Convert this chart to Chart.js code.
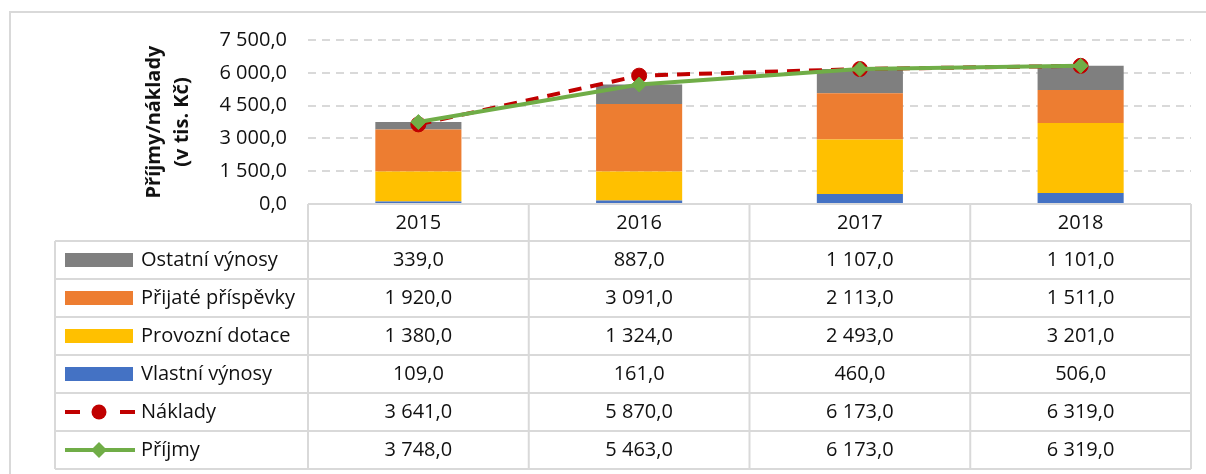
<!DOCTYPE html>
<html lang="cs">
<head>
<meta charset="utf-8">
<title>Příjmy a náklady</title>
<script src="https://cdn.jsdelivr.net/npm/chart.js@4.4.1/dist/chart.umd.min.js"></script>
<style>
  html, body { margin: 0; padding: 0; background: #fff; }
  #wrap { width: 1206px; height: 474px; position: relative; }
</style>
</head>
<body>
<div id="wrap"><canvas id="graf" width="1206" height="474"></canvas></div>
<script>
// data z tabulky pod grafem
const roky = ['2015', '2016', '2017', '2018'];
const vlastniVynosy = [109, 161, 460, 506];
const provozniDotace = [1380, 1324, 2493, 3201];
const prijatePrispevky = [1920, 3091, 2113, 1511];
const ostatniVynosy = [339, 887, 1107, 1101];
const naklady = [3641, 5870, 6173, 6319];
const prijmy = [3748, 5463, 6173, 6319];
const osaY = [0, 1500, 3000, 4500, 6000, 7500];

const PISMO = '"Open Sans", Lato, sans-serif';
const SEDA = '#D9D9D9';

// 7500 -> "7 500,0"
function formatCislo(v) {
    const [cela, des] = Number(v).toFixed(1).split('.');
    return cela.replace(/\B(?=(\d{3})+(?!\d))/g, ' ') + ',' + des;
}

// radky tabulky (poradi jako v Excelu)
const radky = [
    { nazev: 'Ostatní výnosy', data: ostatniVynosy, barva: '#7F7F7F', typ: 'bar' },
    { nazev: 'Přijaté příspěvky', data: prijatePrispevky, barva: '#ED7D31', typ: 'bar' },
    { nazev: 'Provozní dotace', data: provozniDotace, barva: '#FFC000', typ: 'bar' },
    { nazev: 'Vlastní výnosy', data: vlastniVynosy, barva: '#4472C4', typ: 'bar' },
    { nazev: 'Náklady', data: naklady, barva: '#C00000', typ: 'naklady' },
    { nazev: 'Příjmy', data: prijmy, barva: '#70AD47', typ: 'prijmy' }
];

// tabulka s daty + ramecek, kresleno pod osou x
const tabulkaPlugin = {
    id: 'tabulka',
    afterDraw(chart) {
        const ctx = chart.ctx;
        const x = chart.scales.x;
        const area = chart.chartArea;
        const sirka = (area.right - area.left) / roky.length;
        const levy = 55;
        const hlavickaY = area.bottom;
        const vyskaHlavicky = 37;
        const vyskaRadku = 38;
        const prvniRadek = hlavickaY + vyskaHlavicky;
        const konec = prvniRadek + radky.length * vyskaRadku;

        ctx.save();

        // vnejsi ramecek grafu
        ctx.strokeStyle = SEDA;
        ctx.lineWidth = 2;
        ctx.beginPath();
        ctx.moveTo(10, 480);
        ctx.lineTo(10, 12);
        ctx.lineTo(1210, 12);
        ctx.stroke();

        // mrizka tabulky
        ctx.lineWidth = 2;
        ctx.beginPath();
        ctx.moveTo(area.left, hlavickaY);
        ctx.lineTo(area.right, hlavickaY);
        for (let i = 0; i <= radky.length; i++) {
            const y = prvniRadek + i * vyskaRadku;
            ctx.moveTo(levy, y);
            ctx.lineTo(area.right, y);
        }
        ctx.moveTo(levy, prvniRadek);
        ctx.lineTo(levy, konec);
        for (let i = 0; i <= roky.length; i++) {
            const sx = area.left + i * sirka;
            ctx.moveTo(sx, hlavickaY);
            ctx.lineTo(sx, konec);
        }
        ctx.stroke();

        // texty
        ctx.fillStyle = '#111';
        ctx.font = '20px ' + PISMO;
        ctx.textAlign = 'center';
        ctx.textBaseline = 'middle';
        roky.forEach((rok, i) => {
            ctx.fillText(rok, x.getPixelForValue(i), hlavickaY + vyskaHlavicky / 2 + 1);
        });

        radky.forEach((r, j) => {
            const cy = prvniRadek + j * vyskaRadku + vyskaRadku / 2;

            // znacka legendy
            if (r.typ === 'bar') {
                ctx.fillStyle = r.barva;
                ctx.fillRect(65, cy - 7, 68, 14);
            } else if (r.typ === 'naklady') {
                ctx.strokeStyle = r.barva;
                ctx.lineWidth = 4;
                ctx.beginPath();
                ctx.moveTo(65, cy); ctx.lineTo(80, cy);
                ctx.moveTo(120, cy); ctx.lineTo(135, cy);
                ctx.stroke();
                ctx.fillStyle = r.barva;
                ctx.beginPath();
                ctx.arc(99, cy, 7.5, 0, Math.PI * 2);
                ctx.fill();
            } else {
                ctx.strokeStyle = r.barva;
                ctx.lineWidth = 4;
                ctx.beginPath();
                ctx.moveTo(65, cy); ctx.lineTo(135, cy);
                ctx.stroke();
                ctx.fillStyle = r.barva;
                ctx.beginPath();
                ctx.moveTo(99, cy - 8); ctx.lineTo(107, cy);
                ctx.lineTo(99, cy + 8); ctx.lineTo(91, cy);
                ctx.closePath();
                ctx.fill();
            }

            ctx.fillStyle = '#111';
            ctx.textAlign = 'left';
            ctx.fillText(r.nazev, 141, cy);
            ctx.textAlign = 'center';
            r.data.forEach((v, i) => {
                ctx.fillText(formatCislo(v), x.getPixelForValue(i), cy);
            });
        });

        ctx.restore();
    }
};

const sloupce = radky.filter(r => r.typ === 'bar').reverse().map(r => ({
    type: 'bar',
    label: r.nazev,
    data: r.data,
    backgroundColor: r.barva,
    stack: 'prijmy',
    order: 3,
    categoryPercentage: 1,
    barPercentage: 0.39
}));

new Chart(document.getElementById('graf'), {
    data: {
        labels: roky,
        datasets: [
            ...sloupce,
            {
                type: 'line',
                label: 'Náklady',
                data: naklady,
                borderColor: '#C00000',
                backgroundColor: '#C00000',
                borderWidth: 4,
                borderDash: [13, 9],
                pointStyle: 'circle',
                pointRadius: 7.5,
                pointBorderWidth: 1,
                stack: 'naklady',
                order: 2,
                tension: 0
            },
            {
                type: 'line',
                label: 'Příjmy',
                data: prijmy,
                borderColor: '#70AD47',
                backgroundColor: '#70AD47',
                borderWidth: 4,
                pointStyle: 'rectRot',
                pointRadius: 7.5,
                pointBorderWidth: 1,
                stack: 'linie',
                order: 1,
                tension: 0
            }
        ]
    },
    options: {
        responsive: false,
        animation: false,
        devicePixelRatio: 1,
        layout: { padding: { left: 140, right: 15, top: 40, bottom: 270 } },
        plugins: {
            legend: { display: false },
            tooltip: { enabled: false }
        },
        scales: {
            x: {
                display: false,
                stacked: true
            },
            y: {
                stacked: true,
                min: osaY[0],
                max: osaY[osaY.length - 1],
                afterFit: (scale) => { scale.width = 168; },
                afterBuildTicks: (scale) => { scale.ticks = osaY.map(v => ({ value: v })); },
                // prerusovana mrizka
                border: { display: false, dash: [8, 6] },
                grid: {
                    color: (c) => c.tick && c.tick.value === 0 ? 'rgba(0,0,0,0)' : SEDA,
                    lineWidth: 2,
                    drawTicks: false
                },
                ticks: {
                    padding: 21,
                    color: '#111',
                    font: { family: PISMO, size: 20 },
                    callback: (v) => formatCislo(v)
                },
                title: {
                    display: true,
                    text: ['Příjmy/náklady', '(v tis. Kč)'],
                    color: '#111',
                    padding: { top: 0, bottom: 0 },
                    font: { family: PISMO, size: 20, weight: 'bold', lineHeight: 1.4 }
                }
            }
        }
    },
    plugins: [tabulkaPlugin]
});
</script>
</body>
</html>
